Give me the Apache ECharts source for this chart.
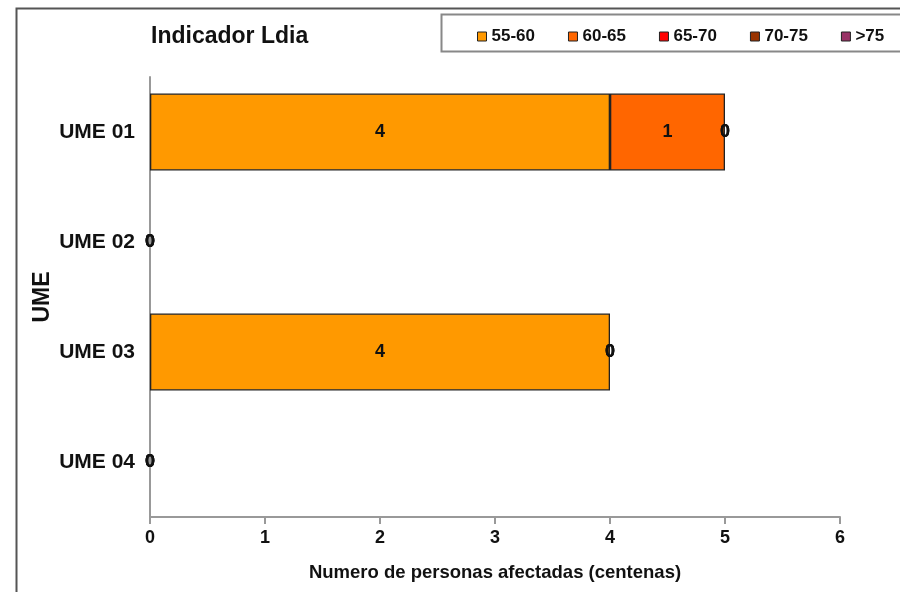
<!DOCTYPE html>
<html>
<head>
<meta charset="utf-8">
<script src="https://cdn.jsdelivr.net/npm/echarts@6/dist/echarts.min.js"></script>
<style>
  html, body { margin: 0; padding: 0; background: #fff; }
  #chart { width: 900px; height: 592px; }
</style>
</head>
<body>
<div id="chart"></div>
<script>
// Affected people per UME zone, split by Ldia noise band (hundreds)
var categories = ['UME 01', 'UME 02', 'UME 03', 'UME 04'];
var bandNames = ['55-60', '60-65', '65-70', '70-75', '>75'];
var band55_60 = [4, 0, 4, 0];
var band60_65 = [1, 0, 0, 0];
var band65_70 = [0, 0, 0, 0];
var band70_75 = [0, 0, 0, 0];
var band75 = [0, 0, 0, 0];
var xTicks = [0, 1, 2, 3, 4, 5, 6];

var bandValues = [band55_60, band60_65, band65_70, band70_75, band75];
var bandColors = ['#FF9900', '#FF6600', '#FF0000', '#993300', '#993366'];

var FONT = '"Liberation Sans", Arial, sans-serif';

var series = bandNames.map(function (name, i) {
  return {
    name: name,
    type: 'bar',
    stack: 'total',
    barCategoryGap: '30%',
    // empty segments keep their value label but get no outline
    data: bandValues[i].map(function (v) {
      return { value: v, itemStyle: { borderWidth: v === 0 ? 0 : 1.3 } };
    }),
    itemStyle: { color: bandColors[i], borderColor: '#222', borderWidth: 1.3 },
    label: {
      show: true,
      position: 'inside',
      color: '#111',
      fontFamily: FONT,
      fontWeight: 'bold',
      fontSize: 18,
      textBorderWidth: 0,
      overflow: 'none'
    },
    labelLayout: { hideOverlap: false },
    emphasis: { disabled: true }
  };
});

var chart = echarts.init(document.getElementById('chart'), null, { renderer: 'canvas' });
chart.setOption({
  animation: false,
  backgroundColor: '#fff',
  textStyle: { fontFamily: FONT },
  title: {
    text: 'Indicador Ldia',
    left: 146,
    top: 20,
    textStyle: { fontFamily: FONT, fontWeight: 'bold', fontSize: 23, color: '#111' }
  },
  legend: {
    data: bandNames,
    left: 472,
    top: 23,
    width: 440,
    orient: 'horizontal',
    icon: 'rect',
    itemWidth: 9,
    itemHeight: 9,
    itemGap: 33,
    itemTextGap: 4,
    itemStyle: { borderColor: '#222', borderWidth: 1 },
    textStyle: { fontFamily: FONT, fontWeight: 'bold', fontSize: 17, color: '#111' }
  },
  grid: { left: 150, right: 60, top: 77, bottom: 75, containLabel: false },
  xAxis: {
    type: 'value',
    min: xTicks[0],
    max: xTicks[xTicks.length - 1],
    interval: 1,
    name: 'Numero de personas afectadas (centenas)',
    nameLocation: 'middle',
    nameGap: 46,
    nameTextStyle: { fontFamily: FONT, fontWeight: 'bold', fontSize: 18.5, color: '#111' },
    axisLine: { show: true, lineStyle: { color: '#999', width: 2 } },
    axisTick: { show: true, length: 7, lineStyle: { color: '#999', width: 2 } },
    axisLabel: { fontFamily: FONT, fontWeight: 'bold', fontSize: 18, color: '#111', margin: 12 },
    splitLine: { show: false }
  },
  yAxis: {
    type: 'category',
    data: categories,
    inverse: true,
    name: 'UME',
    nameLocation: 'middle',
    nameRotate: 90,
    nameGap: 96,
    nameMoveOverlap: false,
    nameTextStyle: { fontFamily: FONT, fontWeight: 'bold', fontSize: 23, color: '#111' },
    axisLine: { show: true, lineStyle: { color: '#999', width: 2 } },
    axisTick: { show: false },
    axisLabel: { fontFamily: FONT, fontWeight: 'bold', fontSize: 21, color: '#111', margin: 15 }
  },
  graphic: [
    {
      type: 'rect',
      shape: { x: 16.5, y: 8.5, width: 900, height: 600 },
      style: { fill: null, stroke: '#555', lineWidth: 2 },
      silent: true
    },
    {
      type: 'rect',
      shape: { x: 441.5, y: 14.5, width: 470, height: 37 },
      style: { fill: null, stroke: '#888', lineWidth: 2 },
      silent: true
    }
  ],
  series: series
});
</script>
</body>
</html>
